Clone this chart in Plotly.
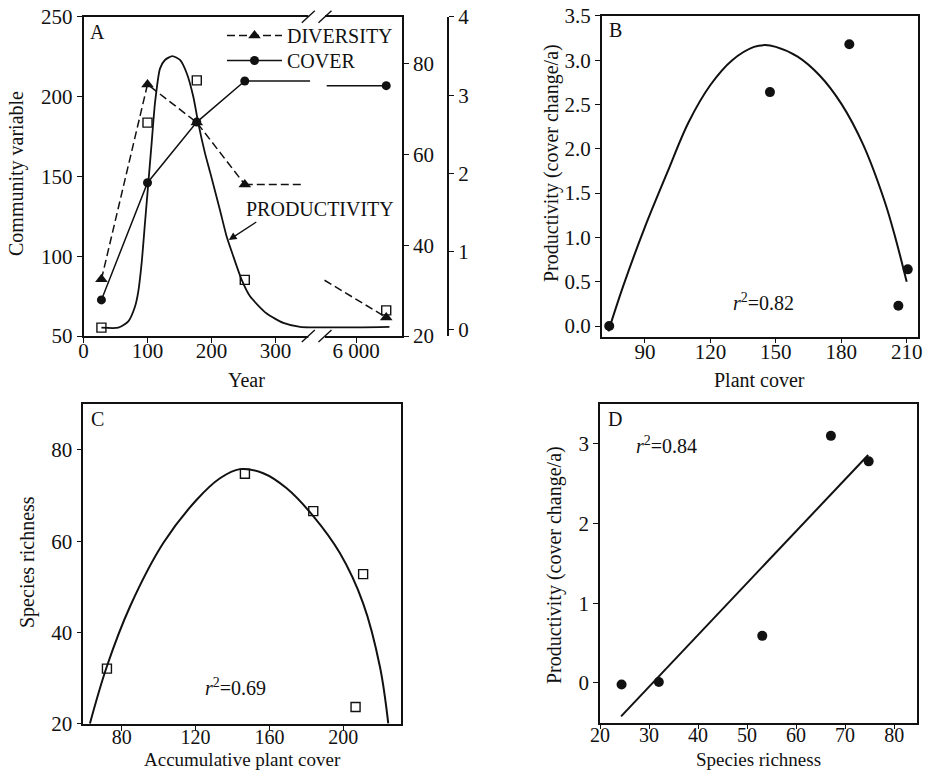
import plotly.graph_objects as go

W, H = 929, 770
FONT = "Liberation Serif"
INK = "#111111"
FS = 20      # text size
TFS = 21     # tick label size

# ---------------- Panel A data (community variables through time) ----------------
years = [28, 100, 177, 252, 6500]
cover = [72.6, 146, 184, 209.7, 206.8]
diversity = [32.5, 75.5, 67.1, 53.4, 24.1]
productivity = [0.03, 2.65, 3.19, 0.64, 0.25]

# line extensions on both sides of the axis break
cover_ext_years = [252, 354, None, 5515, 6500]
cover_ext_vals = [209.7, 209.7, None, 206.8, 206.8]
div_ext_years = [252, 342, None, 5479, 6500]
div_ext_vals = [53.4, 53.4, None, 32.3, 24.1]

# fitted productivity curve
prod_curve_years = [28, 54.4, 70.0, 80.5, 85.6, 90.9, 96.1, 101.3, 106.5, 111.7, 119.5,
                    127.3, 138.8, 150.8, 161.3, 171.6, 179.4, 189.8, 197.7, 213.3, 223.8,
                    234.1, 247.2, 260.2, 286.3, 312.2, 338.3, 6553]
prod_curve_vals = [0.03, 0.03, 0.11, 0.30, 0.49, 0.86, 1.37, 1.88, 2.39, 2.90, 3.34,
                   3.45, 3.50, 3.45, 3.28, 2.98, 2.64, 2.26, 2.02, 1.53, 1.19,
                   0.94, 0.64, 0.43, 0.21, 0.09, 0.04, 0.04]

year_ticks = [0, 100, 200, 300, 6000]
year_ticktext = ["0", "100", "200", "300", "6 000"]

# ---------------- Panel B data (productivity vs plant cover) ----------------
b_cover = [73.6, 147.3, 183.7, 206.2, 210.5]
b_prod = [0.0, 2.64, 3.18, 0.23, 0.64]
b_fit_x = [73.2, 80, 90, 100, 110, 120, 130, 140, 145, 150, 160, 170, 180, 190, 200, 205, 210]
b_fit_y = [-0.06, 0.45, 1.12, 1.72, 2.30, 2.72, 3.00, 3.15, 3.17, 3.15, 3.04, 2.83, 2.51,
           2.05, 1.40, 0.98, 0.50]

# ---------------- Panel C data (species richness vs accumulative cover) ----------------
c_cover = [72.0, 146.7, 183.7, 210.7, 206.6]
c_rich = [32.1, 74.8, 66.6, 52.8, 23.7]
c_fit_x = [62.8, 71.9, 84.5, 102.5, 120.6, 133.2, 144.0, 156.6, 169.3, 183.7, 198.1,
           210.7, 219.8, 224.3]
c_fit_y = [20.1, 32.5, 45.7, 59.6, 69.1, 73.8, 75.8, 74.9, 71.6, 65.5, 57.4,
           46.4, 32.5, 20.1]

# ---------------- Panel D data (productivity vs species richness) ----------------
d_rich = [24.4, 32.0, 53.1, 67.1, 74.8]
d_prod = [-0.02, 0.01, 0.59, 3.10, 2.78]
d_fit_x = [24.3, 74.7]
d_fit_y = [-0.42, 2.86]

# ---------------- broken x axis of panel A ----------------
X0_PX, PX_PER_YEAR = 83.5, 0.64
BREAK_POS, POST_SCALE = 425.8, 0.0944


def year_axis(y):
    if y is None:
        return None
    return y if y < 1000 else BREAK_POS + (y - 6000) * POST_SCALE


def ya(lst):
    return [year_axis(v) for v in lst]


def dom_x(a, b):
    return [a / W, b / W]


def dom_y(top, bottom):
    return [1 - bottom / H, 1 - top / H]


tickfont = dict(family=FONT, size=TFS, color=INK)
common = dict(showline=True, linecolor=INK, linewidth=1.5, ticks="outside", ticklen=5,
              tickwidth=1.3, tickcolor=INK, showgrid=False, zeroline=False,
              tickfont=tickfont, automargin=False)
xcommon = dict(common, ticklabelstandoff=-10)
# bottom-row x axes: slightly tighter labels, as in the reference
xlow = dict(common, ticklabelstandoff=-11, tickfont=dict(family=FONT, size=20, color=INK))

fig = go.Figure()

# ---- Panel A traces ----
fig.add_trace(go.Scatter(x=ya(prod_curve_years), y=prod_curve_vals, mode="lines",
                         line=dict(color=INK, width=1.8, shape="spline", smoothing=0.6),
                         xaxis="x", yaxis="y3", showlegend=False, hoverinfo="skip"))
fig.add_trace(go.Scatter(x=ya(years), y=productivity, mode="markers",
                         marker=dict(symbol="square-open", size=9, color=INK,
                                     line=dict(width=1.4, color=INK)),
                         xaxis="x", yaxis="y3", showlegend=False, name="PRODUCTIVITY"))
fig.add_trace(go.Scatter(x=ya(years[:4]), y=diversity[:4], mode="lines+markers",
                         name="DIVERSITY", legend="legend",
                         line=dict(color=INK, width=1.5, dash="8px,4px"),
                         marker=dict(symbol="triangle-up", size=11, color=INK),
                         xaxis="x", yaxis="y2"))
fig.add_trace(go.Scatter(x=ya(div_ext_years), y=div_ext_vals, mode="lines",
                         line=dict(color=INK, width=1.5, dash="8px,4px"),
                         xaxis="x", yaxis="y2", showlegend=False))
fig.add_trace(go.Scatter(x=ya(years[4:]), y=diversity[4:], mode="markers",
                         marker=dict(symbol="triangle-up", size=11, color=INK),
                         xaxis="x", yaxis="y2", showlegend=False))
fig.add_trace(go.Scatter(x=ya(years[:4]), y=cover[:4], mode="lines+markers", name="COVER",
                         legend="legend2",
                         line=dict(color=INK, width=1.5),
                         marker=dict(symbol="circle", size=9, color=INK),
                         xaxis="x", yaxis="y"))
fig.add_trace(go.Scatter(x=ya(cover_ext_years), y=cover_ext_vals, mode="lines",
                         line=dict(color=INK, width=1.5),
                         xaxis="x", yaxis="y", showlegend=False))
fig.add_trace(go.Scatter(x=ya(years[4:]), y=cover[4:], mode="markers",
                         marker=dict(symbol="circle", size=9, color=INK),
                         xaxis="x", yaxis="y", showlegend=False))

# ---- Panel B ----
fig.add_trace(go.Scatter(x=b_fit_x, y=b_fit_y, mode="lines",
                         line=dict(color=INK, width=2, shape="spline"),
                         xaxis="x2", yaxis="y4", showlegend=False))
fig.add_trace(go.Scatter(x=b_cover, y=b_prod, mode="markers",
                         marker=dict(symbol="circle", size=10, color=INK),
                         xaxis="x2", yaxis="y4", showlegend=False))

# ---- Panel C ----
fig.add_trace(go.Scatter(x=c_fit_x, y=c_fit_y, mode="lines",
                         line=dict(color=INK, width=2, shape="spline"),
                         xaxis="x3", yaxis="y5", showlegend=False))
fig.add_trace(go.Scatter(x=c_cover, y=c_rich, mode="markers",
                         marker=dict(symbol="square-open", size=9, color=INK,
                                     line=dict(width=1.4, color=INK)),
                         xaxis="x3", yaxis="y5", showlegend=False))

# ---- Panel D ----
fig.add_trace(go.Scatter(x=d_fit_x, y=d_fit_y, mode="lines",
                         line=dict(color=INK, width=2),
                         xaxis="x4", yaxis="y6", showlegend=False))
fig.add_trace(go.Scatter(x=d_rich, y=d_prod, mode="markers",
                         marker=dict(symbol="circle", size=10, color=INK),
                         xaxis="x4", yaxis="y6", showlegend=False))

# ---------------- axes ----------------
A_L, A_R, A_T, A_B = 83.5, 402, 16.7, 336
layout_axes = dict(
    xaxis=dict(domain=dom_x(A_L, A_R), anchor="y", range=[0, (A_R - A_L) / PX_PER_YEAR],
               tickvals=ya(year_ticks), ticktext=year_ticktext, mirror=True, **xcommon),
    yaxis=dict(domain=dom_y(A_T, A_B), anchor="x", range=[50, 250],
               tickvals=[50, 100, 150, 200, 250], **common),
    yaxis2=dict(overlaying="y", side="right", anchor="x", range=[20, 90.43],
                tickvals=[20, 40, 60, 80], **common),
    yaxis3=dict(overlaying="y", side="right", anchor="free", position=448.3 / W,
                range=[-0.077, 4.003], tickvals=[0, 1, 2, 3, 4], **common),
    xaxis2=dict(domain=dom_x(601.7, 918), anchor="y4", range=[70.15, 215.2],
                tickvals=[90, 120, 150, 180, 210], mirror=True, **xcommon),
    yaxis4=dict(domain=dom_y(15.7, 336.7), anchor="x2", range=[-0.12, 3.502],
                tickvals=[0, 0.5, 1, 1.5, 2, 2.5, 3, 3.5], tickformat=".1f",
                mirror=True, **common),
    xaxis3=dict(domain=dom_x(83.3, 401), anchor="y5", range=[59.2, 231.2],
                tickvals=[80, 120, 160, 200], mirror=True, **xlow),
    yaxis5=dict(domain=dom_y(404.3, 724.3), anchor="x3", range=[19.9, 90],
                tickvals=[20, 40, 60, 80], mirror=True, **common),
    xaxis4=dict(domain=dom_x(600, 916.7), anchor="y6", range=[20.0, 84.6],
                tickvals=[20, 30, 40, 50, 60, 70, 80], mirror=True, **xlow),
    yaxis6=dict(domain=dom_y(404, 722.7), anchor="x4", range=[-0.5, 3.5],
                tickvals=[0, 1, 2, 3], mirror=True, **common),
)


def ann(text, px, py, size=FS, angle=0, xanchor="center"):
    return dict(text=text, x=px / W, y=1 - py / H, xref="paper", yref="paper",
                showarrow=False, textangle=angle, xanchor=xanchor, yanchor="middle",
                font=dict(family=FONT, size=size, color=INK))


annotations = [
    ann("A", 97, 32), ann("B", 615, 30), ann("C", 97.5, 419), ann("D", 614.5, 418.5),
    ann("Community variable", 17, 174, angle=-90),
    ann("Year", 247, 380),
    ann("Productivity (cover change/a)", 551, 163, angle=-90),
    ann("Plant cover", 759, 380),
    ann("Species richness", 27, 562, angle=-90),
    ann("Accumulative plant cover", 242, 759, size=19),
    ann("Productivity (cover change/a)", 554, 565, angle=-90),
    ann("Species richness", 758, 759, size=19),
    ann("<i>r</i><sup>2</sup>=0.82", 763, 302),
    ann("<i>r</i><sup>2</sup>=0.69", 235, 687),
    ann("<i>r</i><sup>2</sup>=0.84", 666, 445),
    ann("PRODUCTIVITY", 320, 209),
    dict(text="", x=227, y=1.15, xref="x", yref="y3", showarrow=True, ax=29, ay=-19,
         arrowhead=2, arrowsize=1.2, arrowwidth=1.3, arrowcolor=INK),
]

# axis-break marks on panel A (top and bottom frame lines)
shapes = []
brk = [(308.3 - X0_PX) / PX_PER_YEAR, (325 - X0_PX) / PX_PER_YEAR]
for yanc in (0, 1):
    shapes.append(dict(type="rect", xref="x", yref="y domain", x0=brk[0], x1=brk[1],
                       ysizemode="pixel", yanchor=yanc, y0=-2.5, y1=2.5,
                       fillcolor="white", line=dict(width=0), layer="above"))
    for xc in brk:
        shapes.append(dict(type="line", xref="x", yref="y domain", xsizemode="pixel",
                           ysizemode="pixel", xanchor=xc, yanchor=yanc,
                           x0=-6.5, x1=6.5, y0=-6, y1=6,
                           line=dict(color=INK, width=1.4), layer="above"))

leg_common = dict(xanchor="left", yanchor="top", bgcolor="rgba(0,0,0,0)",
                  font=dict(family=FONT, size=FS, color=INK), itemsizing="trace",
                  itemwidth=55)

fig.update_layout(
    template="none",
    width=W, height=H, margin=dict(l=0, r=0, t=0, b=0, autoexpand=False),
    paper_bgcolor="white", plot_bgcolor="white",
    font=dict(family=FONT, size=FS, color=INK),
    showlegend=True,
    legend=dict(x=222 / W, y=1 - 16 / H, **leg_common),
    legend2=dict(x=222 / W, y=1 - 41 / H, **leg_common),
    annotations=annotations, shapes=shapes,
    **layout_axes,
)

fig.write_html("out.html", config={"displayModeBar": False},
               post_script="document.body.style.margin='0px';")
